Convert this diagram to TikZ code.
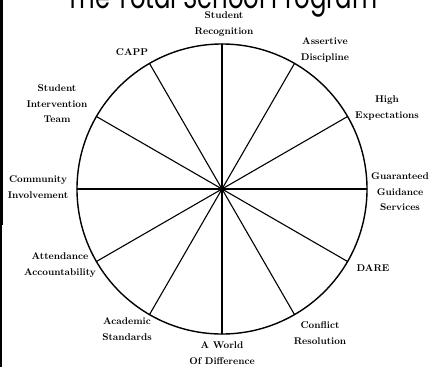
\documentclass[tikz,border=0pt]{standalone}
\usepackage{fontspec}
\usepackage{graphicx}
\newfontfamily\titlefont{Poppins}
\usetikzlibrary{positioning,calc}

\begin{document}
\begin{tikzpicture}[x=1pt,y=-1pt,
   lbl/.style={align=center,inner sep=0pt,font=\fontsize{9.8}{15.5}\selectfont\bfseries},
   spoke/.style={line width=1.1pt},
   every path/.style={line cap=round}]
  \useasboundingbox (0,0) rectangle (430,367);
  % title, cut off by the top edge
  \node[anchor=base,inner sep=0pt](title) at (222,8.5)
     {\resizebox{311pt}{24pt}{\titlefont The Total School Program}};
  % bar at the left edge
  \fill (0,0) rectangle (3,225);
  \fill (0,225) rectangle (1.8,367);
  % wheel
  \coordinate (hub) at (222,189);
  \draw[line width=1.4pt] (hub) circle[radius=145pt];
  \foreach \a in {0,30,...,330}{
    \coordinate (s\a) at ($(hub)+(\a:145pt)$);
    \draw[spoke] (hub) -- (s\a);
  }
  \fill (hub) circle[radius=3pt];
  % labels round the wheel
  \node[lbl](srec) at (224,24){Student\\Recognition};
  \node[lbl](asd)  at (325,50){Assertive\\Discipline};
  \node[lbl](hex)  at (387,108){High\\Expectations};
  \node[lbl](ggs)  at (400,192){Guaranteed\\Guidance\\Services};
  \node[lbl](dare) at (373,268){DARE};
  \node[lbl](conf) at (320,333){Conflict\\Resolution};
  \node[lbl](awod) at (222,353){A World\\Of Difference};
  \node[lbl](acad) at (127,329){Academic\\Standards};
  \node[lbl](att)  at (60,265){Attendance\\Accountability};
  \node[lbl](comm) at (38,187){Community\\Involvement};
  \node[lbl](sit)  at (57,104){Student\\Intervention\\Team};
  \node[lbl](capp) at (132,52){CAPP};
\end{tikzpicture}
\end{document}
